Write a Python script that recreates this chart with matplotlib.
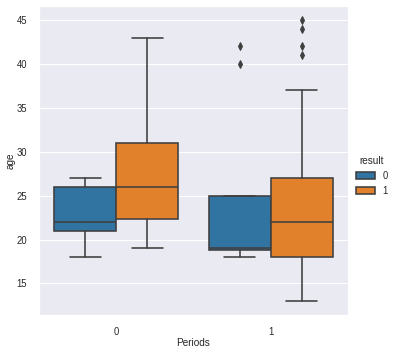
import matplotlib
matplotlib.use("Agg")
import matplotlib.pyplot as plt
import matplotlib.patches as mpatches
import seaborn as sns

sns.set_theme(style="darkgrid", context="notebook")
plt.rcParams['font.family'] = ['Liberation Sans', 'DejaVu Sans']

# box statistics, per (Periods, result)
periods = ["0", "1"]
results = ["0", "1"]
whislo = [[18, 19], [18, 13]]
q1 = [[21, 22.3], [18.8, 18]]
med = [[22, 26], [19, 22]]
q3 = [[26, 31], [25, 27]]
whishi = [[27, 43], [25, 37]]
fliers = [[[], []], [[40, 42], [41, 42, 44, 45]]]

colors = ["#3274a1", "#e1812c"]
line_col = "#3f3f3f"
lw = 1.6

fig = plt.figure(figsize=(395 / 72, 352 / 72), dpi=72)
ax = fig.add_axes([39 / 395, 37 / 352, 309 / 395, 309 / 352])

width = 0.4
for i in range(len(periods)):
    for j in range(len(results)):
        st = {"whislo": whislo[i][j], "q1": q1[i][j], "med": med[i][j],
              "q3": q3[i][j], "whishi": whishi[i][j], "fliers": fliers[i][j]}
        pos = i - width / 2 + j * width
        ax.bxp([st], positions=[pos], widths=width, patch_artist=True,
               showfliers=True, manage_ticks=False,
               boxprops=dict(facecolor=colors[j], edgecolor=line_col, linewidth=lw),
               medianprops=dict(color=line_col, linewidth=lw),
               whiskerprops=dict(color=line_col, linewidth=lw),
               capprops=dict(color=line_col, linewidth=lw),
               flierprops=dict(marker="d", markerfacecolor=line_col,
                               markeredgecolor=line_col, markersize=5))

ax.set_xlim(-0.5, 1.5)
ax.set_ylim(11.4, 46.6)
ax.set_xticks(range(len(periods)))
ax.set_xticklabels(periods)
ax.set_yticks([15, 20, 25, 30, 35, 40, 45])
ax.tick_params(labelsize=9.5, pad=6)
ax.xaxis.grid(False)
ax.set_xlabel("Periods", fontsize=10, labelpad=1)
ax.set_ylabel("age", fontsize=10, labelpad=1)

handles = [mpatches.Patch(facecolor=colors[j], edgecolor=line_col, linewidth=lw,
                          label=results[j]) for j in range(len(results))]
fig.legend(handles=handles, title="result", frameon=False, fontsize=9.5,
           title_fontsize=10, handlelength=2.0,
           loc="center left", bbox_to_anchor=(347 / 395, 0.5))

fig.savefig("out.png", dpi=72)
